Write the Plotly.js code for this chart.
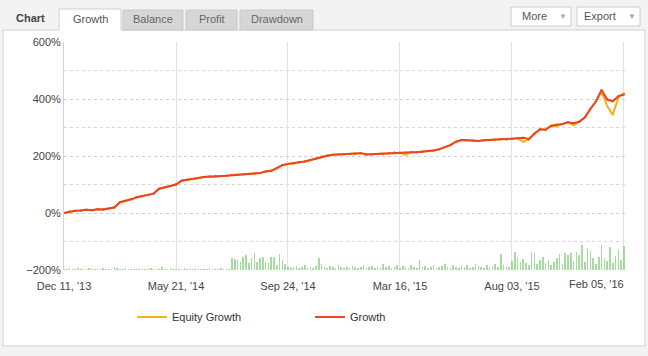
<!DOCTYPE html>
<html><head><meta charset="utf-8">
<script src="https://cdn.plot.ly/plotly-3.0.1.min.js"></script>
<style>html,body{margin:0;padding:0;background:#fff;}#chart{width:648px;height:356px;}</style>
</head><body><div id="chart"></div>
<script>
// Tick labels (evenly spaced on the trade-index axis)
var tickLabels = ["Dec 11, '13", "May 21, '14", "Sep 24, '14", "Mar 16, '15", "Aug 03, '15", "Feb 05, '16"];
var tickIndex = [0, 20, 40, 60, 80, 100];

// Growth (%) per step
var growth = [0,5,8,9,11,10,13,12,16,20,
  38,42,48,55,60,63,68,85,91,95,
  100,113,117,119,123,126,128,129,130,131,
  133,134,136,138,139,140,146,148,158,168,
  172,174,178,181,186,191,198,201,204,205,
  206,207,209,210,205,206,207,208,210,212,
  211,212,213,213,215,217,219,224,231,238,
  250,256,255,254,253,255,256,257,259,258,
  260,262,264,260,278,294,292,306,310,312,
  318,315,320,335,365,392,432,398,392,410,416];

// Equity growth (%) per step
var equity = [0,5,8,9,11,10,13,12,16,18,
  38,42,48,55,60,63,68,85,91,95,
  100,113,117,119,123,126,128,127,130,131,
  133,134,136,138,139,140,146,148,156,168,
  172,174,178,181,186,191,198,201,204,205,
  206,207,209,210,205,206,207,208,210,212,
  211,204,213,213,215,217,219,222,231,238,
  250,256,255,254,253,255,256,257,259,258,
  260,262,250,257,278,294,292,306,305,312,
  318,308,320,335,365,392,425,375,345,405,420];

// Trading volume (relative), two bars per step
var volumes = [1,1,2,1,1,2,1,1,1,2,1,1,1,1,2,1,1,1,3,2,
  1,1,2,1,1,1,1,2,1,1,1,2,1,1,1,3,1,1,2,1,
  1,1,1,2,1,1,1,2,1,1,1,1,2,1,1,1,2,1,1,1,
  12,11,10,8,13,15,7,12,17,8,12,13,8,7,13,13,5,16,10,6,3,
  2,3,4,2,3,5,2,3,2,4,12,6,3,2,4,3,2,5,3,2,
  3,2,4,3,2,3,5,2,3,4,2,3,2,6,3,4,2,3,5,2,
  4,3,2,5,3,2,10,3,4,2,3,5,2,3,4,6,3,2,5,3,
  2,4,3,5,2,3,6,4,3,2,5,3,4,6,3,16,
  5,4,3,9,18,13,8,11,7,5,18,17,6,10,13,7,10,5,8,12,16,6,17,15,17,9,18,15,25,8,22,19,12,6,13,25,12,9,23,7,14,20,10,24];

var steps = growth.map(function(v,i){return i;});
var volX = volumes.map(function(v,i){return i*0.5;});

// pixel -> paper helpers (plot area: x 64..626, y 42..270)
var L=64, R=626, T=42, B=270;
function px(x){return (x-L)/(R-L);}
function py(y){return (B-y)/(B-T);}

var font = "Liberation Sans, Arial, sans-serif";

var traces = [
  {type:'bar', x:volX, y:volumes, yaxis:'y2', width:0.28,
   marker:{color:'rgba(130,205,120,0.7)', line:{width:0}}, showlegend:false, hoverinfo:'skip'},
  {type:'scatter', mode:'lines+markers', name:'Equity Growth', x:steps, y:equity,
   line:{color:'#f7b219', width:2}, marker:{size:2, color:'#f7b219'}},
  {type:'scatter', mode:'lines+markers', name:'Growth', x:steps, y:growth,
   line:{color:'#ec4424', width:2}, marker:{size:2, color:'#ec4424'}}
];

var shapes = [];
var ann = [];
// white panel
shapes.push({type:'rect', xref:'paper', yref:'paper', layer:'below',
  x0:px(3), x1:px(645), y0:py(346), y1:py(30), fillcolor:'#ffffff', line:{color:'#cfcfcf', width:1}});
// tabs
var tabs = [
  {t:'Growth', a:59, b:121, on:true},
  {t:'Balance', a:123, b:183},
  {t:'Profit', a:186, b:237},
  {t:'Drawdown', a:240, b:313}
];
tabs.forEach(function(tb){
  if(tb.on){
    shapes.push({type:'rect', xref:'paper', yref:'paper', layer:'above',
      x0:px(tb.a), x1:px(tb.b), y0:py(31), y1:py(9), fillcolor:'#ffffff', line:{width:0}});
    shapes.push({type:'path', xref:'paper', yref:'paper', layer:'above',
      path:'M'+px(tb.a)+','+py(30)+' L'+px(tb.a)+','+py(9)+' L'+px(tb.b)+','+py(9)+' L'+px(tb.b)+','+py(30),
      line:{color:'#cfcfcf', width:1}});
  } else {
    shapes.push({type:'rect', xref:'paper', yref:'paper', layer:'above',
      x0:px(tb.a), x1:px(tb.b), y0:py(30), y1:py(10), fillcolor:'#d6d6d6', line:{color:'#c9c9c9', width:1}});
  }
  ann.push({xref:'paper', yref:'paper', x:px((tb.a+tb.b)/2), y:py(19), text:tb.t, showarrow:false,
    font:{family:font, size:11, color: tb.on ? '#555555' : '#666666'}, xanchor:'center', yanchor:'middle'});
});
ann.push({xref:'paper', yref:'paper', x:px(14), y:py(18), text:'<b>Chart</b>', showarrow:false,
  font:{family:font, size:11, color:'#444444'}, xanchor:'left', yanchor:'middle'});
// buttons
[{t:'More', a:511, b:571}, {t:'Export', a:577, b:640}].forEach(function(bt){
  shapes.push({type:'rect', xref:'paper', yref:'paper', layer:'above',
    x0:px(bt.a), x1:px(bt.b), y0:py(26), y1:py(7), fillcolor:'#ffffff', line:{color:'#cccccc', width:1}});
  ann.push({xref:'paper', yref:'paper', x:px(bt.b-22), y:py(16), text:bt.t, showarrow:false,
    font:{family:font, size:11, color:'#555555'}, xanchor:'right', yanchor:'middle'});
  ann.push({xref:'paper', yref:'paper', x:px(bt.b-8), y:py(16), text:'\u25BC', showarrow:false,
    font:{family:font, size:8, color:'#aaaaaa'}, xanchor:'center', yanchor:'middle'});
});
// last x tick label, justified inside the plot like the reference
var shownTicks = tickLabels.map(function(t,i){return i === tickLabels.length-1 ? '' : t;});
ann.push({xref:'x', yref:'paper', x:tickIndex[tickIndex.length-1], y:py(284), text:tickLabels[tickLabels.length-1],
  showarrow:false, xanchor:'right', yanchor:'middle', xshift:2, font:{family:font, size:11, color:'#444444'}});

var layout = {
  width:648, height:356,
  margin:{l:L, r:648-R, t:T, b:356-B, pad:0},
  paper_bgcolor:'#f3f3f3', plot_bgcolor:'#ffffff',
  font:{family:font, size:11, color:'#444444'},
  xaxis:{range:[0,100.36], tickvals:tickIndex, ticktext:shownTicks, showgrid:true,
    gridcolor:'#e2e2e2', gridwidth:1, zeroline:false, showline:false, ticks:'', ticklabelstandoff:8,
    tickfont:{family:font, size:11, color:'#444444'}, fixedrange:true},
  yaxis:{range:[-200,600], tickvals:[-200,0,200,400,600], ticktext:['\u2212200%','0%','200%','400%','600%'],
    showgrid:true, gridcolor:'#cfcfcf', griddash:'dot', zeroline:false, showline:true, linecolor:'#cfd3dc',
    ticks:'', tickfont:{family:font, size:11, color:'#444444'},
    minor:{dtick:100, tick0:0, showgrid:true, gridcolor:'#d6d6d6', griddash:'dot'}, fixedrange:true},
  yaxis2:{overlaying:'y', range:[0,228], visible:false, fixedrange:true},
  barmode:'overlay', bargap:0,
  showlegend:true,
  legend:{orientation:'h', x:px(132), xanchor:'left', y:py(317), yanchor:'middle',
    entrywidth:133, entrywidthmode:'pixels', bgcolor:'rgba(0,0,0,0)',
    font:{family:font, size:11, color:'#333333'}, itemclick:false},
  shapes:shapes, annotations:ann
};

Plotly.newPlot('chart', traces, layout, {staticPlot:true, displayModeBar:false});
</script></body></html>
